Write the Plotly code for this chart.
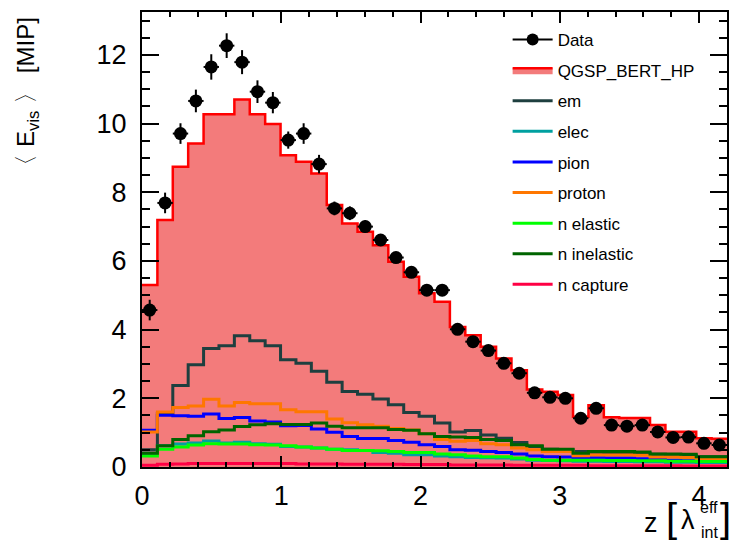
import plotly.graph_objects as go

# ---------------- data ----------------
n_bins = 38
z_max = 4.2
bin_w = z_max / n_bins
edges = [i * bin_w for i in range(n_bins + 1)]
centers = [(edges[i] + edges[i + 1]) / 2 for i in range(n_bins)]

data_vals = [4.57, 7.69, 9.71, 10.66, 11.65, 12.27, 11.79, 10.93, 10.61, 9.52,
             9.71, 8.82, 7.53, 7.39, 7.00, 6.61, 6.10, 5.67, 5.15, 5.15,
             4.01, 3.65, 3.39, 3.02, 2.73, 2.16, 2.03, 2.00, 1.42, 1.71,
             1.22, 1.19, 1.22, 1.02, 0.86, 0.87, 0.69, 0.64]
data_err = [0.30, 0.30, 0.30, 0.33, 0.37, 0.36, 0.35, 0.33, 0.31, 0.25,
            0.30, 0.27, 0.20, 0.20, 0.18, 0.17, 0.16, 0.15, 0.14, 0.14,
            0.12, 0.11, 0.10, 0.10, 0.09, 0.08, 0.08, 0.08, 0.07, 0.07,
            0.06, 0.06, 0.06, 0.05, 0.05, 0.05, 0.05, 0.05]

qgsp = [5.30, 7.19, 8.74, 9.42, 10.27, 10.27, 10.70, 10.27, 9.99, 9.08,
        8.89, 8.55, 7.63, 7.09, 6.85, 6.46, 5.98, 5.54, 5.06, 4.81,
        4.08, 3.84, 3.50, 3.16, 2.82, 2.26, 2.19, 2.10, 1.46, 1.80,
        1.45, 1.43, 1.43, 1.22, 1.03, 1.03, 0.84, 0.82]

em = [0.50, 1.55, 2.37, 2.98, 3.45, 3.53, 3.82, 3.68, 3.53, 3.12,
      3.02, 2.79, 2.47, 2.20, 2.12, 1.98, 1.81, 1.59, 1.48, 1.28,
      1.02, 1.06, 0.93, 0.84, 0.71, 0.60, 0.52, 0.50, 0.45, 0.43,
      0.42, 0.40, 0.40, 0.37, 0.35, 0.34, 0.30, 0.30]
elec = [0.40, 0.62, 0.67, 0.70, 0.76, 0.70, 0.72, 0.68, 0.66, 0.60,
        0.58, 0.55, 0.52, 0.50, 0.48, 0.42, 0.40, 0.36, 0.36, 0.32,
        0.30, 0.28, 0.27, 0.26, 0.23, 0.20, 0.19, 0.18, 0.17, 0.17,
        0.16, 0.16, 0.15, 0.15, 0.14, 0.14, 0.13, 0.13]
pion = [1.07, 1.51, 1.49, 1.48, 1.54, 1.41, 1.44, 1.34, 1.31, 1.20,
        1.21, 1.11, 1.01, 0.89, 0.83, 0.83, 0.77, 0.72, 0.65, 0.60,
        0.50, 0.49, 0.45, 0.42, 0.38, 0.32, 0.30, 0.29, 0.26, 0.27,
        0.26, 0.26, 0.24, 0.22, 0.20, 0.18, 0.18, 0.17]
proton = [1.02, 1.60, 1.73, 1.78, 1.97, 1.78, 1.88, 1.84, 1.84, 1.67,
          1.61, 1.61, 1.40, 1.29, 1.23, 1.19, 1.12, 1.08, 0.97, 0.80,
          0.75, 0.77, 0.68, 0.65, 0.55, 0.50, 0.45, 0.45, 0.33, 0.35,
          0.35, 0.35, 0.34, 0.29, 0.29, 0.28, 0.23, 0.23]
n_elastic = [0.32, 0.52, 0.58, 0.64, 0.68, 0.67, 0.67, 0.65, 0.64, 0.62,
             0.58, 0.55, 0.52, 0.48, 0.48, 0.47, 0.45, 0.42, 0.42, 0.38,
             0.36, 0.32, 0.30, 0.30, 0.26, 0.22, 0.20, 0.20, 0.20, 0.20,
             0.19, 0.19, 0.18, 0.18, 0.17, 0.17, 0.16, 0.16]
n_inelastic = [0.40, 0.62, 0.80, 0.91, 1.03, 1.08, 1.18, 1.23, 1.26, 1.24,
               1.24, 1.28, 1.19, 1.14, 1.14, 1.14, 1.09, 1.07, 0.97, 0.89,
               0.87, 0.86, 0.80, 0.77, 0.65, 0.62, 0.52, 0.52, 0.40, 0.45,
               0.45, 0.45, 0.44, 0.38, 0.38, 0.37, 0.30, 0.30]
n_capture = [0.05, 0.08, 0.09, 0.10, 0.10, 0.10, 0.10, 0.10, 0.10, 0.10,
             0.09, 0.09, 0.09, 0.08, 0.08, 0.08, 0.08, 0.07, 0.07, 0.07,
             0.06, 0.06, 0.06, 0.06, 0.05, 0.05, 0.05, 0.05, 0.05, 0.04,
             0.04, 0.04, 0.04, 0.04, 0.04, 0.03, 0.03, 0.03]

components = [
    ("em", em, "#1e3f3f"),
    ("elec", elec, "#00a0a0"),
    ("pion", pion, "#0000ff"),
    ("proton", proton, "#ff7700"),
    ("n elastic", n_elastic, "#00ff00"),
    ("n inelastic", n_inelastic, "#006400"),
    ("n capture", n_capture, "#ff0044"),
]

FONT = "Liberation Sans, Arial, Helvetica, sans-serif"


def step_xy(vals):
    return edges, list(vals) + [vals[-1]]


fig = go.Figure()

# Legend entry for data (line + marker)
fig.add_trace(go.Scatter(
    x=[None], y=[None], mode="lines+markers", name="Data",
    line=dict(color="black", width=2),
    marker=dict(color="black", size=12, symbol="circle"),
    legendgroup="g0",
))

# QGSP_BERT_HP filled step histogram
sx, sy = step_xy(qgsp)
fig.add_trace(go.Scatter(
    x=sx, y=sy, mode="lines", line=dict(shape="hv", color="#ff0000", width=2.5),
    fill="tozeroy", fillcolor="#f37b7b", name="QGSP_BERT_HP",
    legendgroup="g1",
))

for i, (name, vals, col) in enumerate(components):
    sx, sy = step_xy(vals)
    fig.add_trace(go.Scatter(
        x=sx, y=sy, mode="lines", line=dict(shape="hv", color=col, width=3),
        name=name, legendgroup="g%d" % (i + 2),
    ))

# Data points
fig.add_trace(go.Scatter(
    x=centers, y=data_vals, mode="markers", showlegend=False,
    marker=dict(color="black", size=13, symbol="circle"),
    error_y=dict(type="data", array=data_err, color="black", thickness=2, width=0),
    error_x=dict(type="constant", value=bin_w / 2, color="black", thickness=2, width=0),
))

fig.update_layout(
    width=731, height=542,
    margin=dict(l=142, r=2, t=12, b=75),
    paper_bgcolor="white", plot_bgcolor="white",
    font=dict(family=FONT, color="black"),
    showlegend=True,
    legend=dict(
        x=0.625, y=0.978, xanchor="left", yanchor="top",
        font=dict(family=FONT, size=17, color="black"),
        bgcolor="rgba(0,0,0,0)", borderwidth=0,
        tracegroupgap=5.5, itemwidth=40,
    ),
    xaxis=dict(
        range=[0, z_max], showgrid=False, zeroline=False,
        showline=True, linecolor="black", linewidth=2, mirror="allticks",
        ticks="inside", ticklen=11, tickwidth=2, tickcolor="black",
        tickvals=[0, 1, 2, 3, 4],
        tickfont=dict(family=FONT, size=27, color="black"),
        ticklabelstandoff=4,
        minor=dict(ticks="inside", ticklen=5, tickwidth=1.5, tickcolor="black", dtick=0.2),
    ),
    yaxis=dict(
        range=[0, 13.25], showgrid=False, zeroline=False,
        showline=True, linecolor="black", linewidth=2, mirror="allticks",
        ticks="inside", ticklen=17, tickwidth=2, tickcolor="black",
        tickvals=[0, 2, 4, 6, 8, 10, 12],
        tickfont=dict(family=FONT, size=27, color="black"),
        ticklabelstandoff=8,
        minor=dict(ticks="inside", ticklen=8, tickwidth=1.5, tickcolor="black", dtick=0.5),
    ),
)

# Y axis title (rotated, top aligned as in ROOT)
fig.add_annotation(
    xref="paper", yref="paper", x=-0.195, y=0.995, xanchor="center", yanchor="top",
    text="〈 E<sub>vis</sub> 〉 [MIP]", textangle=-90, showarrow=False,
    font=dict(family=FONT, size=24, color="black"),
)

# X axis title z [lambda_int^eff]
def px_x(px):
    return (px - 142) / 587.0


def px_y(py):
    return (467 - py) / 455.0


xt = [
    ("z", 653, 523, 27),
    ("[", 673, 518, 40),
    ("λ", 690, 520, 27),
    ("eff", 711, 508, 16),
    ("int", 711, 532, 16),
    ("]", 727, 518, 40),
]
for t, xx, yy, fs in xt:
    fig.add_annotation(
        xref="paper", yref="paper", x=px_x(xx), y=px_y(yy),
        xanchor="center", yanchor="middle", text=t, showarrow=False,
        font=dict(family=FONT, size=fs, color="black"),
    )

fig.write_html("out.html")
